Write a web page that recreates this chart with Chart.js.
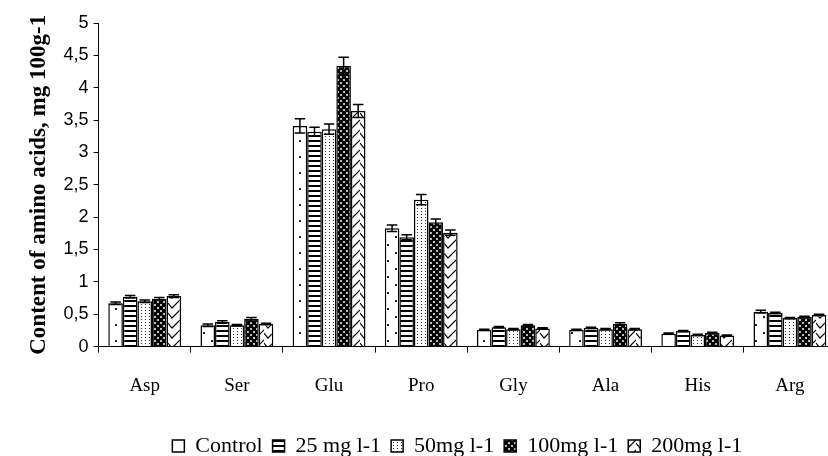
<!DOCTYPE html>
<html>
<head>
<meta charset="utf-8">
<script src="https://cdn.jsdelivr.net/npm/chart.js@4/dist/chart.umd.min.js"></script>
<style>
  html, body { margin: 0; padding: 0; background: #fff; overflow: hidden; }
  #wrap { width: 836px; height: 456px; }
</style>
</head>
<body>
<div id="wrap"><canvas id="c" width="836" height="456"></canvas></div>
<script>
// Amino acid content, mg per 100 g, by treatment
const aminoAcids = ['Asp', 'Ser', 'Glu', 'Pro', 'Gly', 'Ala', 'His', 'Arg'];
const seriesNames = ['Control', '25 mg l-1', '50mg l-1', '100mg l-1', '200mg l-1'];

const control = [0.67, 0.33, 3.41, 1.83, 0.26, 0.26, 0.20, 0.54];
const mg25    = [0.77, 0.38, 3.32, 1.69, 0.30, 0.29, 0.24, 0.52];
const mg50    = [0.70, 0.33, 3.36, 2.27, 0.27, 0.27, 0.18, 0.44];
const mg100   = [0.74, 0.43, 4.34, 1.92, 0.33, 0.35, 0.21, 0.46];
const mg200   = [0.78, 0.35, 3.64, 1.76, 0.28, 0.27, 0.17, 0.49];

// Standard errors
const errControl = [0.02, 0.02, 0.11, 0.05, 0.01, 0.01, 0.01, 0.02];
const errMg25    = [0.02, 0.02, 0.07, 0.04, 0.01, 0.01, 0.01, 0.01];
const errMg50    = [0.02, 0.01, 0.08, 0.08, 0.01, 0.01, 0.01, 0.01];
const errMg100   = [0.02, 0.02, 0.13, 0.05, 0.01, 0.02, 0.01, 0.01];
const errMg200   = [0.02, 0.01, 0.10, 0.04, 0.01, 0.01, 0.01, 0.01];

const yTicks = [0, 0.5, 1, 1.5, 2, 2.5, 3, 3.5, 4, 4.5, 5];

const canvas = document.getElementById('c');
const ctx = canvas.getContext('2d');

// Monochrome hatch fills
function tile(w, h, paint) {
  const t = document.createElement('canvas');
  t.width = w; t.height = h;
  const g = t.getContext('2d');
  paint(g, w, h);
  return ctx.createPattern(t, 'repeat');
}
const fillDotsSparse = tile(16, 16, (g, w, h) => {
  g.fillStyle = '#fff'; g.fillRect(0, 0, w, h);
  g.fillStyle = '#222';
  g.fillRect(3, 4, 2, 2); g.fillRect(11, 12, 2, 2);
});
const fillHLines = tile(4, 5, (g, w, h) => {
  g.fillStyle = '#fff'; g.fillRect(0, 0, w, h);
  g.fillStyle = '#000'; g.fillRect(0, 0, w, 2);
});
const fillDotsDense = tile(4, 3, (g, w, h) => {
  g.fillStyle = '#fff'; g.fillRect(0, 0, w, h);
  g.fillStyle = '#333'; g.fillRect(1, 1, 1, 1);
});
const fillDarkDots = tile(6, 6, (g, w, h) => {
  g.fillStyle = '#000'; g.fillRect(0, 0, w, h);
  g.fillStyle = '#bbb';
  g.fillRect(1, 1, 2, 2); g.fillRect(4, 4, 2, 2);
});
const fillChevron = tile(12, 10, (g, w, h) => {
  g.fillStyle = '#fff'; g.fillRect(0, 0, w, h);
  g.strokeStyle = '#000'; g.lineWidth = 1.2;
  for (const dy of [-10, 0, 10]) {
    g.beginPath();
    g.moveTo(0, 3 + dy); g.lineTo(4, 8 + dy); g.lineTo(12, 0 + dy);
    g.stroke();
  }
});

const fills = [fillDotsSparse, fillHLines, fillDotsDense, fillDarkDots, fillChevron];
const values = [control, mg25, mg50, mg100, mg200];
const errors = [errControl, errMg25, errMg50, errMg100, errMg200];

const datasets = seriesNames.map((name, i) => ({
  label: name,
  data: values[i],
  errors: errors[i],
  backgroundColor: fills[i],
  borderColor: '#000',
  borderWidth: 1.5,
  categoryPercentage: 0.79,
  barPercentage: 1.0
}));

// Error bars on top of each bar
const errorBars = {
  id: 'errorBars',
  afterDatasetsDraw(chart) {
    const y = chart.scales.y;
    const g = chart.ctx;
    g.save();
    g.strokeStyle = '#000';
    g.lineWidth = 1.5;
    chart.data.datasets.forEach((ds, i) => {
      const meta = chart.getDatasetMeta(i);
      meta.data.forEach((bar, j) => {
        const v = ds.data[j], e = ds.errors[j];
        const top = y.getPixelForValue(v + e);
        const bot = y.getPixelForValue(v - e);
        const half = bar.width * 0.36;
        g.beginPath();
        g.moveTo(bar.x, top); g.lineTo(bar.x, bot);
        g.moveTo(bar.x - half, top); g.lineTo(bar.x + half, top);
        g.moveTo(bar.x - half, bot); g.lineTo(bar.x + half, bot);
        g.stroke();
      });
    });
    g.restore();
  }
};

// Place the legend row under the plot area, near the bottom edge
const legendUnderPlot = {
  id: 'legendUnderPlot',
  afterLayout(chart) {
    const lg = chart.legend, ca = chart.chartArea;
    if (!lg) return;
    lg.left = ca.left - 10;
    lg.right = ca.right - 10;
    lg.width = lg.right - lg.left;
    lg.top += 11;
    lg.bottom += 11;
  }
};

Chart.defaults.color = '#000';

new Chart(ctx, {
  type: 'bar',
  data: { labels: aminoAcids, datasets },
  plugins: [errorBars, legendUnderPlot],
  options: {
    responsive: false,
    animation: false,
    devicePixelRatio: 1,
    layout: { padding: { left: 5, right: 0, top: 23, bottom: 0 } },
    plugins: {
      tooltip: { enabled: false },
      legend: {
        position: 'bottom',
        labels: {
          font: { family: 'Liberation Serif', size: 22 },
          color: '#000',
          boxWidth: 12,
          boxHeight: 12,
          padding: 10
        }
      }
    },
    scales: {
      x: {
        grid: { offset: true, drawOnChartArea: false, tickLength: 6, color: '#000', tickWidth: 1 },
        border: { color: '#000', width: 1 },
        ticks: { font: { family: 'Liberation Serif', size: 19 }, color: '#000', padding: 22 },
        afterFit(scale) { scale.height -= 5.4; }
      },
      y: {
        min: 0,
        max: 5,
        afterBuildTicks(scale) { scale.ticks = yTicks.map(v => ({ value: v })); },
        grid: { drawOnChartArea: false, tickLength: 5, color: '#000' },
        border: { color: '#000', width: 1 },
        ticks: {
          font: { family: 'Liberation Sans', size: 18 },
          color: '#000',
          padding: 5,
          callback: v => String(v).replace('.', ',')
        },
        title: {
          display: true,
          text: 'Content of amino acids, mg 100g-1',
          font: { family: 'Liberation Serif', size: 23, weight: 'bold' },
          color: '#000',
          padding: { top: 20, bottom: 6 }
        }
      }
    }
  }
});
</script>
</body>
</html>
